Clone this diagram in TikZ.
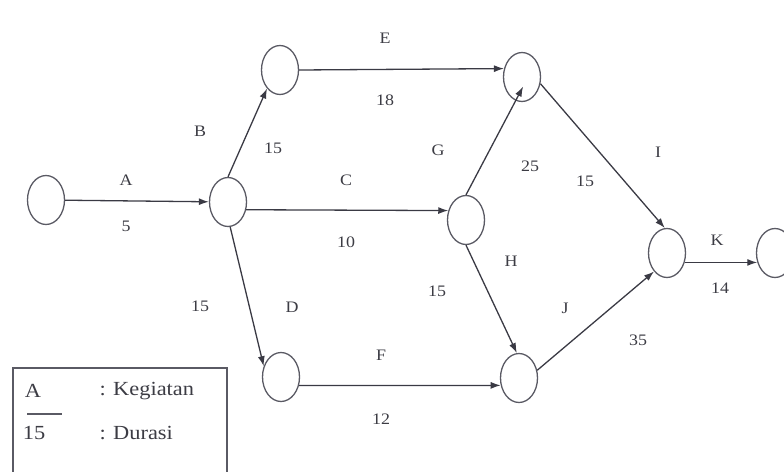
\documentclass[tikz,border=0pt]{standalone}
\usepackage{fontspec}
\setmainfont{Liberation Serif}[FakeStretch=1.12]
\usetikzlibrary{shapes.geometric, arrows.meta, positioning}
\definecolor{lngray}{HTML}{3A3A44}
\definecolor{evgray}{HTML}{5A5A64}
\definecolor{txtgray}{HTML}{3C3C44}
\tikzstyle{event}=[draw=evgray,ellipse,minimum width=37pt,minimum height=49pt,inner sep=0pt,line width=1.3pt]
\tikzstyle{every node}=[font=\fontsize{16}{18}\selectfont,text=txtgray]
\tikzstyle{legtxt}=[font=\fontsize{20}{22}\selectfont]
\newcommand{\act}[1]{\mbox{#1}}

\begin{document}
\begin{tikzpicture}[x=1pt,y=-1pt,>={Latex[length=10pt,width=7pt]},
    arc/.style={->,draw=lngray,line width=1.3pt}]
  \useasboundingbox (0,0) rectangle (784,471);
  % events
  \node[event] (n1) at (46,200) {};
  \node[event] (n2) at (228,202) {};
  \node[event] (n3) at (280,70) {};
  \node[event] (n4) at (522,77) {};
  \node[event] (n5) at (466,220) {};
  \node[event] (n8) at (281,377) {};
  \node[event] (n9) at (519,378) {};
  \node[event] (n6) at (667,253) {};
  \node[event] (n7) at (775,253) {};
  % activities
  \draw[arc] (n1) -- (n2);
  \draw[arc] (n2.north) -- (n3.235);
  \draw[arc] (n2.-23) -- (n5.152);
  \draw[arc] (n2.-85) -- (n8.148);
  \draw[arc] (n3.east) -- (n4.155);
  \draw[arc,shorten >=-16pt] (n5.north) -- (n4.-105);
  \draw[arc] (n5.south) -- (n9.95);
  \draw[arc] (n8.-25) -- (n9.202);
  \draw[arc] (n4.-20) -- (n6.95);
  \draw[arc] (n9.23) -- (n6.235);
  \draw[arc] (n6.-28) -- (n7.208);
  % labels
  \node (lA) at (126,180) {\act{A}};
  \node (dA) at (126,226) {5};
  \node (lB) at (200,131) {\act{B}};
  \node (dB) at (273,148) {15};
  \node (lE) at (385,38) {\act{E}};
  \node (dE) at (385,100) {18};
  \node (lC) at (346,180) {\act{C}};
  \node (dC) at (346,242) {10};
  \node (lD) at (292,307) {\act{D}};
  \node (dD) at (200,306) {15};
  \node (lF) at (381,355) {\act{F}};
  \node (dF) at (381,419) {12};
  \node (lG) at (438,150) {\act{G}};
  \node (dG) at (530,166) {25};
  \node (lH) at (511,261) {\act{H}};
  \node (dH) at (437,291) {15};
  \node (lI) at (658,152) {\act{I}};
  \node (dI) at (585,181) {15};
  \node (lJ) at (565,308) {\act{J}};
  \node (dJ) at (638,340) {35};
  \node (lK) at (717,240) {\act{K}};
  \node (dK) at (720,288) {14};
  % legend
  \draw[draw=evgray,line width=1.3pt] (13,368) rectangle (227,490);
  \node[legtxt] (legA) at (33,391) {A};
  \node[legtxt,anchor=west] (legK) at (96,391) {: Kegiatan};
  \draw[draw=evgray,line width=1.2pt] (27,414) -- (62,414);
  \node[legtxt] (leg15) at (34,433) {15};
  \node[legtxt,anchor=west] (legD) at (96,433) {: Durasi};
\end{tikzpicture}
\end{document}
